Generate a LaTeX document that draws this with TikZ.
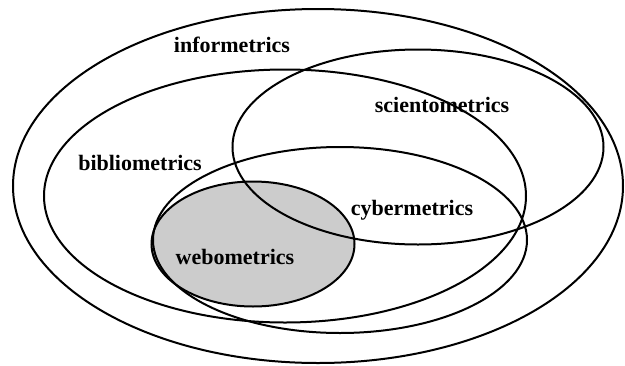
\documentclass[tikz,border=0pt]{standalone}
\usepackage{fontspec}
\setmainfont{Liberation Serif}
\usetikzlibrary{shapes.geometric}

\begin{document}
\begin{tikzpicture}[x=1pt, y=-1pt,
  field/.style={draw, ellipse, line width=2pt, inner sep=0pt},
  lbl/.style={font=\fontsize{22}{24}\selectfont\bfseries}]
\useasboundingbox (0,0) rectangle (625,365);

% Fields
\node[field, fill=gray!40, draw=none, minimum width=203pt, minimum height=125pt] (webfill) at (253,244) {};
\node[field, minimum width=610pt, minimum height=354pt] (info) at (318,186) {};
\node[field, minimum width=482pt, minimum height=253pt] (biblio) at (285,196) {};
\node[field, minimum width=371pt, minimum height=195pt] (scient) at (418,147) {};
\node[field, minimum width=374pt, minimum height=186pt] (cyber) at (340,240) {};
\node[field, minimum width=203pt, minimum height=125pt] (webo) at (253,244) {};

% Labels
\node[lbl] (infolbl) at (232,45) {informetrics};
\node[lbl] (sciolbl) at (442,105) {scientometrics};
\node[lbl] (biblbl) at (140,163) {bibliometrics};
\node[lbl] (cyblbl) at (412,210) {cybermetrics};
\node[lbl] (weblbl) at (235,257) {webometrics};

\end{tikzpicture}
\end{document}
